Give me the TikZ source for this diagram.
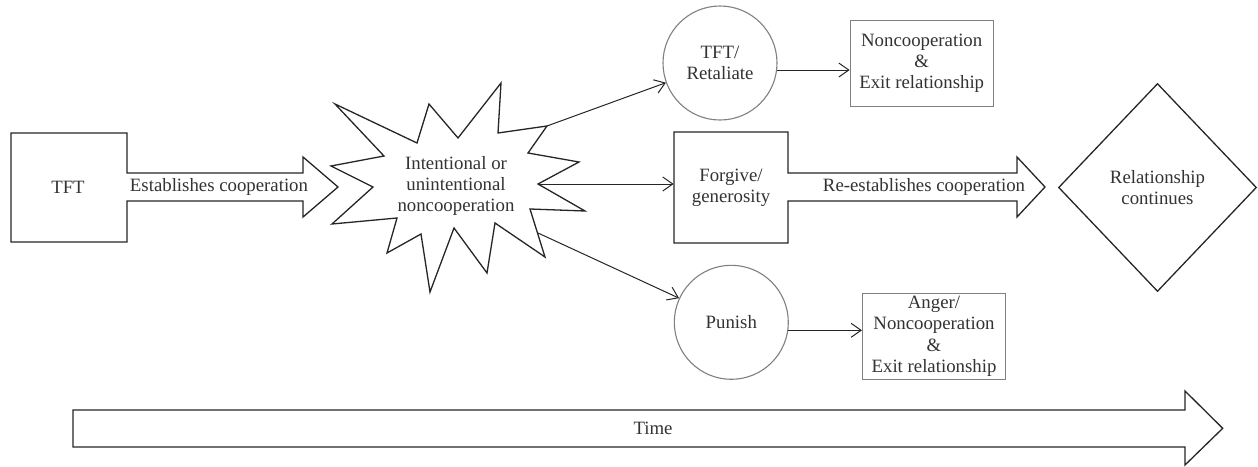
\documentclass[tikz,border=0pt]{standalone}
\usepackage{fontspec}
\setmainfont{Liberation Serif}
\usetikzlibrary{arrows.meta,shapes.geometric}
\begin{document}
\begin{tikzpicture}[x=0.5pt,y=-0.5pt,
  txt/.style={font=\fontsize{9.4}{10.6}\selectfont, text=black!80, align=center, inner sep=0pt},
  blackline/.style={draw=black!85, line width=0.65pt, line join=miter},
  grayline/.style={draw=black!50, line width=0.55pt},
  conn/.style={draw=black!85, line width=0.5pt, -{Straight Barb[length=5pt,width=7pt]}},
  roundnode/.style={txt, circle, grayline, minimum size=57pt},
  outbox/.style={txt, rectangle, grayline, minimum width=71.5pt, minimum height=43pt}]
\useasboundingbox[fill=white] (0,0) rectangle (1258,466);

% TFT box with arrow
\draw[blackline] (11,133) -- (127,133) -- (127,173) -- (303,173) -- (303,157) -- (338,187)
  -- (303,217) -- (303,201) -- (127,201) -- (127,242) -- (11,242) -- cycle;
\node[txt] (tft) at (68,187) {TFT};
\node[txt] (est) at (219,187) {Establishes cooperation};

% starburst
\draw[blackline] (335,104) -- (417,143) -- (429,104) -- (458,138) -- (501,83) -- (498,133)
  -- (547,126) -- (528,153) -- (579,162) -- (538,184) -- (585,211) -- (530,209)
  -- (545,257) -- (495,223) -- (487,273) -- (454,228) -- (430,292) -- (421,234)
  -- (387,253) -- (397,218) -- (332,224) -- (373,187) -- (331,166) -- (384,156) -- cycle;
\node[txt] (nonc) at (456,186) {Intentional or\\unintentional\\noncooperation};
\coordinate (s1) at (547,126);
\coordinate (s2) at (538,184);
\coordinate (s3) at (538,233);

% TFT / Retaliate branch
\node[roundnode] (ret) at (720,63) {TFT/\\Retaliate};
\node[outbox] (nc1) at (921.7,63.3) {Noncooperation\\\&\\Exit relationship};
\draw[conn] (s1) -- (ret);
\draw[conn] (ret.-7) -- (nc1.west |- ret.-7);

% Forgive branch
\draw[blackline] (674,132) -- (788,132) -- (788,173) -- (1017,173) -- (1017,157) -- (1045,187)
  -- (1017,217) -- (1017,201) -- (788,201) -- (788,243) -- (674,243) -- cycle;
\node[txt, minimum width=57pt, minimum height=55.5pt] (forg) at (731,187.5) {Forgive/\\generosity};
\node[txt] (reest) at (924,187) {Re-establishes cooperation};
\draw[conn] (s2) -- (s2 -| forg.west);
\node[txt, diamond, blackline, minimum width=99pt, minimum height=104pt] (rel) at (1157.5,187.5) {Relationship\\continues};

% Punish branch
\node[roundnode] (pun) at (731.3,322.3) {Punish};
\node[outbox] (nc2) at (934,336.3) {Anger/\\Noncooperation\\\&\\Exit relationship};
\draw[conn] (s3) -- (pun);
\draw[conn] (pun.-8) -- (nc2.west |- pun.-8);

% Time arrow
\draw[blackline] (73,410) -- (1185,410) -- (1185,391) -- (1222.7,428.3) -- (1185,465)
  -- (1185,447) -- (73,447) -- cycle;
\node[txt] (time) at (653,428) {Time};
\end{tikzpicture}
\end{document}
